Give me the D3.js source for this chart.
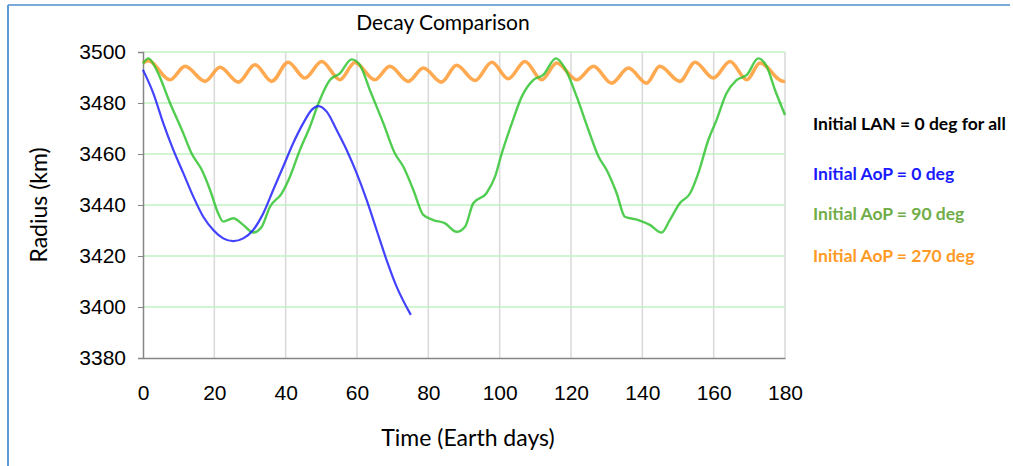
<!DOCTYPE html>
<html lang="en">
<head>
  <meta charset="UTF-8">
  <title>Decay Comparison</title>
  <script src="https://d3js.org/d3.v7.min.js"></script>
  <style>
    body { margin: 0; background: #fff; }
    svg { display: block; font-family: Lato, "Open Sans", sans-serif; }
  </style>
</head>
<body>
  <script>
    // x tick labels / y tick labels
    const xTicks = [0, 20, 40, 60, 80, 100, 120, 140, 160, 180];
    const yTicks = [3380, 3400, 3420, 3440, 3460, 3480, 3500];

    // Initial AoP = 0 deg  [day, km]
    const aop0 = [
      [0, 3493], [2.9, 3483.8], [5.7, 3472], [8.5, 3461.6], [11.3, 3452.5],
      [14.1, 3443.3], [16.9, 3435.4], [19.7, 3430.2], [22.5, 3426.9], [25.3, 3425.8],
      [28.1, 3426.9], [30.9, 3430.2], [33.7, 3436.7], [36.5, 3445.9], [39.3, 3455],
      [42.1, 3464.2], [44.9, 3472], [47.3, 3477.3], [49.2, 3478.8], [51.5, 3476.6],
      [54.3, 3469.4], [57.1, 3461.6], [59.9, 3452.5], [62.7, 3442], [65.5, 3430.2],
      [68.3, 3418.4], [71.1, 3408], [75.1, 3396.9]
    ];

    // Initial AoP = 90 deg
    const aop90 = [
      [0, 3495.5], [1.5, 3497.5], [3.8, 3493], [7.6, 3479.9], [11.3, 3468.1],
      [13.6, 3460.3], [16.5, 3453.7], [18.8, 3445.9], [21.1, 3436.7], [22.5, 3433.5],
      [25.3, 3434.8], [28.1, 3432.2], [30.9, 3429.2], [33.3, 3431.5], [35.6, 3439.3],
      [38.9, 3444.6], [41.2, 3451.1], [44, 3461.6], [46.8, 3470.7], [49.2, 3479.9],
      [52.4, 3489], [55.2, 3491.6], [58.5, 3497.1], [60.8, 3494.9], [63.6, 3485.1],
      [67.4, 3472], [70.6, 3460.3], [73, 3455], [75.8, 3445.9], [78.6, 3436.1],
      [81.4, 3434.1], [84.7, 3432.8], [87.9, 3429.5], [90.3, 3431.5], [92.6, 3440.7],
      [96.3, 3444.6], [98.7, 3451.1], [100.6, 3460.3], [103.4, 3472], [106.2, 3482.5],
      [109.4, 3489], [112.2, 3491], [115.8, 3497.5], [118.3, 3493.6], [121.6, 3482.5],
      [124.9, 3469.4], [127.7, 3459], [130, 3453.7], [132.8, 3444.6], [135.1, 3435.4],
      [138.9, 3434.1], [142.1, 3432.2], [145.4, 3429.2], [147.7, 3434.1], [150.5, 3440.7],
      [153.4, 3444.6], [155.7, 3452.5], [158.5, 3465.5], [160.8, 3473.3], [163.6, 3483.8],
      [166.4, 3489], [169.3, 3491], [172.5, 3497.5], [174.9, 3494.2], [177.2, 3485.1],
      [180, 3475.3]
    ];

    // Initial AoP = 270 deg
    const aop270 = [
      [0, 3495.7], [1.5, 3496.6], [7.6, 3489.1], [11.8, 3494.4], [17.4, 3488.5],
      [21.6, 3494], [26.7, 3488.2], [31.4, 3495], [36.1, 3488.5], [40.7, 3496],
      [45.4, 3489.8], [50.1, 3496.3], [55.2, 3489.1], [59.4, 3495.9], [65, 3489.1],
      [69.2, 3494.4], [74.4, 3488.5], [78.6, 3493.7], [83.7, 3488.2], [87.9, 3494.8],
      [93.1, 3488.8], [97.8, 3496], [102.4, 3489.5], [107.1, 3496.3], [111.8, 3489.1],
      [116, 3495.7], [121.6, 3489.1], [126.3, 3494.4], [131.4, 3487.8], [136.1, 3493.7],
      [141.2, 3487.8], [144.9, 3494.4], [150.5, 3488.5], [154.8, 3496], [159.9, 3489.8],
      [164.6, 3496.3], [169.3, 3489.1], [173, 3495.7], [179.5, 3488.5], [180, 3488.7]
    ];

    const legendLabels = [
      'Initial LAN = 0 deg for all',
      'Initial AoP = 0 deg',
      'Initial AoP = 90 deg',
      'Initial AoP = 270 deg'
    ];
    const legendColors = ['#000000', '#1a1aff', '#70ad47', '#ff9a26'];

    const width = 1013, height = 466;
    const margin = { left: 143, right: 228, top: 52, bottom: 108 };

    const svg = d3.select('body').append('svg')
      .attr('width', width)
      .attr('height', height);

    // frame borders
    svg.append('line')
      .attr('x1', 8).attr('y1', 5).attr('x2', 1010).attr('y2', 5)
      .style('stroke', '#7aa9dc').style('stroke-width', 2);
    svg.append('line')
      .attr('x1', 8).attr('y1', 5).attr('x2', 8).attr('y2', height)
      .style('stroke', '#5b9bd5').style('stroke-width', 2);

    const x = d3.scaleLinear().domain([0, 180]).range([margin.left, width - margin.right]);
    const y = d3.scaleLinear().domain([3380, 3500]).range([height - margin.bottom, margin.top]);

    // vertical grid
    svg.append('g')
      .selectAll('line')
      .data(xTicks.slice(1))
      .join('line')
      .attr('x1', d => x(d)).attr('x2', d => x(d))
      .attr('y1', y(3500)).attr('y2', y(3380))
      .style('stroke', '#d9d9d9').style('stroke-width', 1.5);

    // horizontal grid
    svg.append('g')
      .selectAll('line')
      .data(yTicks.slice(1))
      .join('line')
      .attr('x1', x(0)).attr('x2', x(180))
      .attr('y1', d => y(d)).attr('y2', d => y(d))
      .style('stroke', '#c2f0c2').style('stroke-width', 1.5);

    // axes
    const yAxis = svg.append('g')
      .attr('transform', `translate(${x(0)},0)`)
      .call(d3.axisLeft(y).tickValues(yTicks).tickSize(5).tickPadding(12).tickFormat(d3.format('d')));
    yAxis.select('.domain').style('stroke', '#868686').style('stroke-width', 1.5);
    yAxis.selectAll('.tick line').style('stroke', '#868686');
    yAxis.selectAll('text').style('font-size', '21px').style('fill', '#000');

    const xAxis = svg.append('g')
      .attr('transform', `translate(0,${y(3380)})`)
      .call(d3.axisBottom(x).tickValues(xTicks).tickSize(0).tickPadding(27));
    xAxis.select('.domain').style('stroke', '#868686').style('stroke-width', 1.5);
    xAxis.selectAll('text').style('font-size', '21px').style('fill', '#000');

    // series
    const line = d3.line()
      .x(d => x(d[0]))
      .y(d => y(d[1]))
      .curve(d3.curveMonotoneX);

    const series = [
      { data: aop270, color: '#ff9a33', w: 3.6 },
      { data: aop90, color: '#33c433', w: 2.4 },
      { data: aop0, color: '#2222ff', w: 2.2 }
    ];

    svg.append('g')
      .selectAll('path')
      .data(series)
      .join('path')
      .attr('d', d => line(d.data))
      .style('fill', 'none')
      .style('stroke', d => d.color)
      .style('stroke-width', d => d.w)
      .style('stroke-opacity', 0.85)
      .style('stroke-linejoin', 'round');

    // titles
    svg.append('text')
      .attr('x', 443).attr('y', 30)
      .attr('text-anchor', 'middle')
      .style('font-size', '21px')
      .text('Decay Comparison');

    svg.append('text')
      .attr('transform', `translate(47,${(y(3500) + y(3380)) / 2}) rotate(-90)`)
      .attr('text-anchor', 'middle')
      .style('font-size', '23px')
      .text('Radius (km)');

    svg.append('text')
      .attr('x', 468).attr('y', 446)
      .attr('text-anchor', 'middle')
      .style('font-size', '23px')
      .text('Time (Earth days)');

    // legend text
    svg.append('g')
      .selectAll('text')
      .data(legendLabels)
      .join('text')
      .attr('x', 813)
      .attr('y', (d, i) => [130, 180, 220, 262][i])
      .style('font-size', '17.5px')
      .style('font-weight', 'bold')
      .style('fill', (d, i) => legendColors[i])
      .text(d => d);
  </script>
</body>
</html>
